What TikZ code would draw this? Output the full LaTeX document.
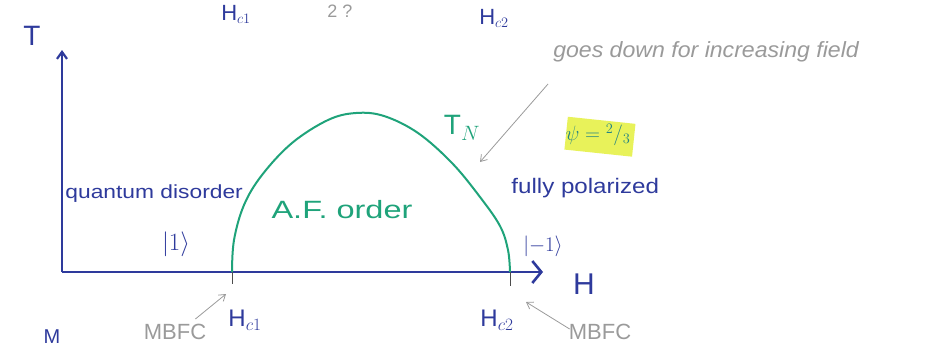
\documentclass[tikz,border=0pt]{standalone}
\usepackage{fontspec}
\setmainfont{Liberation Sans}
\usetikzlibrary{arrows.meta}
\definecolor{pen}{HTML}{2E3A9C}
\definecolor{grn}{HTML}{1FA37A}
\definecolor{pencil}{HTML}{9A9A9A}
\definecolor{hl}{HTML}{E8F25A}
\tikzset{
  axis/.style={pen, line width=2.2pt},
  bluetxt/.style={pen, inner sep=1pt},
  greentxt/.style={grn, inner sep=1pt},
  graytxt/.style={pencil, inner sep=1pt},
  grayarrow/.style={pencil, line width=0.8pt, -{Straight Barb[length=6pt,width=8pt]}},
  tick/.style={black!70, line width=0.8pt},
  dome/.style={grn, line width=2pt}
}
\begin{document}
\begin{tikzpicture}[x=1pt,y=-1pt]
\useasboundingbox (0,0) rectangle (925,349);
% axes
\coordinate (O) at (62,272);
\coordinate (Tend) at (62,50);
\coordinate (Hend) at (543,272);
\draw[axis,-{Straight Barb[length=7pt,width=10pt]}] (O) -- (Tend);
\draw[axis,line width=2.6pt,-{Straight Barb[length=9pt,width=22pt]}] (O) -- (Hend);
\node[bluetxt, font=\fontsize{28}{28}\selectfont] (Tlab) at (32,36) {T};
\node[bluetxt, font=\fontsize{30}{30}\selectfont] (Hlab) at (584,284) {H};
% critical fields
\coordinate (hc1) at (232,272);
\coordinate (hc2) at (510,272);
\draw[tick] (hc1) -- ++(0,12);
\draw[tick] (hc2) -- ++(0,14);
\node[bluetxt, font=\fontsize{24}{24}\selectfont] (hc1lab) at (245,320) {H$_{c1}$};
\node[bluetxt, font=\fontsize{24}{24}\selectfont] (hc2lab) at (497,320) {H$_{c2}$};
% top labels
\node[bluetxt, font=\fontsize{22}{22}\selectfont] (tophc1) at (236,14) {H$_{c1}$};
\node[bluetxt, font=\fontsize{22}{22}\selectfont] (tophc2) at (494,18) {H$_{c2}$};
\node[graytxt, font=\fontsize{18}{18}\selectfont] (topq) at (340,11) {2 ?};
\node[bluetxt, font=\fontsize{20}{20}\selectfont] (Mlab) at (52,337) {M};
% dome
\draw[dome] plot[smooth, tension=0.6] coordinates {(hc1) (234,240) (244,205) (262,175) (292,143) (328,120) (356,113) (384,116) (418,133) (452,163) (480,197) (500,226) (508,250) (hc2)};
% region labels
\node[bluetxt, font=\fontsize{19}{19}\selectfont, xscale=1.2, anchor=west] (qd) at (64,194) {quantum disorder};
\node[bluetxt, font=\fontsize{24}{24}\selectfont] (ket1) at (176,244) {$|1\rangle$};
\node[greentxt, font=\fontsize{25}{25}\selectfont, xscale=1.3] (af) at (342,210) {A.F. order};
\node[greentxt, font=\fontsize{28}{28}\selectfont] (tn) at (462,128) {T$_N$};
\node[bluetxt, font=\fontsize{21}{21}\selectfont, xscale=1.15, anchor=west] (fp) at (510,188) {fully polarized};
\node[bluetxt, font=\fontsize{22}{22}\selectfont] (ketm1) at (543,246) {$|{-1}\rangle$};
% psi highlight
\fill[hl, rotate around={-6:(598,136)}] (566,120) rectangle (634,153);
\node[grn!70!pen, font=\fontsize{22}{22}\selectfont] (psi) at (598,135) {$\psi = {}^{2}/_{3}$};
% pencil notes
\node[graytxt, font=\fontsize{22}{22}\selectfont\itshape, xscale=1.05, anchor=west] (note) at (552,52) {goes down for increasing field};
\coordinate (tnpt) at (480,162);
\draw[grayarrow] (548,84) -- (tnpt);
\node[graytxt, font=\fontsize{22}{22}\selectfont] (mb1) at (175,332) {MBFC};
\coordinate (mb1tip) at (226,294);
\draw[grayarrow] (mb1.north east) ++(-12,-4) -- (mb1tip);
\node[graytxt, font=\fontsize{22}{22}\selectfont] (mb2) at (600,332) {MBFC};
\coordinate (mb2tip) at (526,302);
\draw[grayarrow] (mb2.north west) ++(2,6) -- (mb2tip);
\end{tikzpicture}
\end{document}
